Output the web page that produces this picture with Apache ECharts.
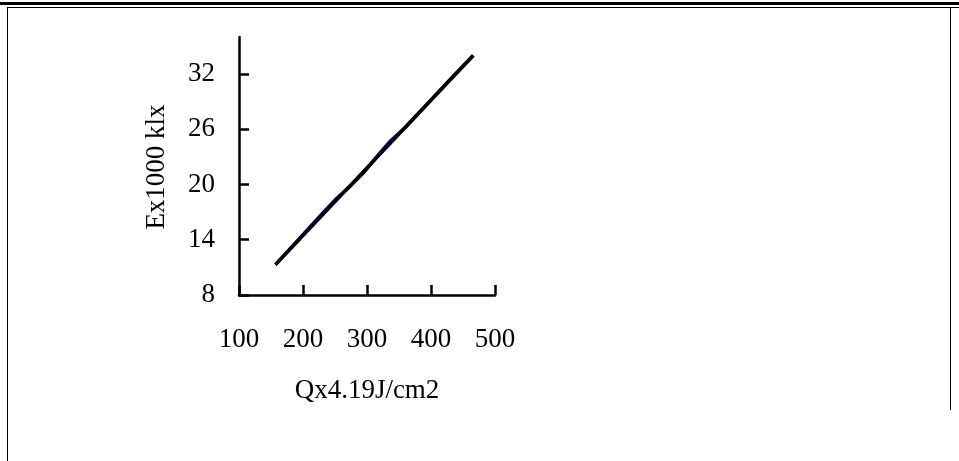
<!DOCTYPE html>
<html>
<head>
<meta charset="utf-8">
<script src="https://cdn.jsdelivr.net/npm/echarts@6/dist/echarts.min.js"></script>
<style>html,body{margin:0;padding:0;background:#fff;}#c{width:959px;height:461px;}</style>
</head>
<body>
<div id="c"></div>
<script>
// Data
var dataX = [157, 185, 210, 235, 250, 275, 295, 320, 335, 360, 395, 430, 466];
var dataY = [11.3, 13.4, 15.3, 17.2, 18.3, 19.9, 21.3, 23.4, 24.6, 26.2, 28.8, 31.4, 34.0];
var trendX = [157, 466];
var trendY = [11.3, 34.0];
var xTicks = [100, 200, 300, 400, 500];
var yTicks = [8, 14, 20, 26, 32];
var xTitle = 'Qx4.19J/cm2';
var yTitle = 'Ex1000 klx';

var chart = echarts.init(document.getElementById('c'), null, {renderer: 'canvas'});
var font = 'Liberation Serif';
function pairs(xs, ys) { return xs.map(function (x, i) { return [x, ys[i]]; }); }

chart.setOption({
  animation: false,
  backgroundColor: '#fff',
  grid: {left: 239, right: 464, top: 37, bottom: 166, containLabel: false},
  xAxis: {
    type: 'value', min: 100, max: 500, interval: 100,
    axisLine: {show: true, onZero: false, lineStyle: {color: '#000', width: 2.5}},
    axisTick: {show: true, inside: true, length: 10, lineStyle: {color: '#000', width: 2.5}, customValues: xTicks},
    axisLabel: {color: '#000', fontFamily: font, fontSize: 27, margin: 31, customValues: xTicks},
    splitLine: {show: false}
  },
  yAxis: {
    type: 'value', min: 8, max: 36, interval: 6,
    axisLine: {show: true, onZero: false, lineStyle: {color: '#000', width: 2.5}},
    axisTick: {show: true, inside: true, length: 10, lineStyle: {color: '#000', width: 2.5}, customValues: yTicks},
    axisLabel: {color: '#000', fontFamily: font, fontSize: 27, margin: 24, customValues: yTicks},
    splitLine: {show: false}
  },
  series: [
    {
      type: 'line', data: pairs(dataX, dataY), showSymbol: false, smooth: false,
      lineStyle: {color: '#000080', width: 3.5}, z: 2
    },
    {
      type: 'line', data: pairs(trendX, trendY), showSymbol: false,
      lineStyle: {color: '#000', width: 3.5}, z: 3
    }
  ],
  graphic: [
    {type: 'rect', shape: {x: 0, y: 2, width: 959, height: 3}, style: {fill: '#000'}, silent: true},
    {type: 'line', shape: {x1: 7, y1: 7.5, x2: 959, y2: 7.5}, style: {stroke: '#000', lineWidth: 1}, silent: true},
    {type: 'line', shape: {x1: 7.5, y1: 7, x2: 7.5, y2: 461}, style: {stroke: '#000', lineWidth: 1}, silent: true},
    {type: 'line', shape: {x1: 950.5, y1: 7, x2: 950.5, y2: 410}, style: {stroke: '#000', lineWidth: 1}, silent: true},
    {type: 'text', x: 157, y: 167, rotation: Math.PI / 2,
      style: {text: yTitle, font: '27px "Liberation Serif"', fill: '#000', textAlign: 'center', textVerticalAlign: 'middle'}},
    {type: 'text', x: 367, y: 391,
      style: {text: xTitle, font: '27px "Liberation Serif"', fill: '#000', textAlign: 'center', textVerticalAlign: 'middle'}}
  ]
});
</script>
</body>
</html>
